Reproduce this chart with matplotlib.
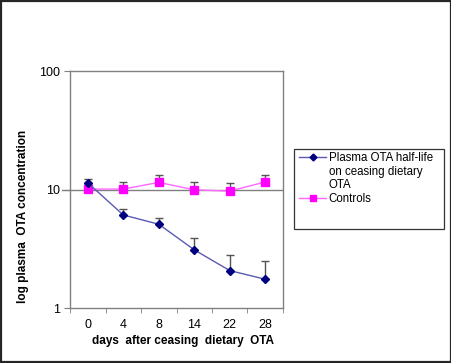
import numpy as np
import matplotlib.pyplot as plt
from matplotlib.lines import Line2D
from matplotlib.ticker import FixedLocator, NullLocator

plt.rcParams["font.family"] = ["Liberation Sans", "DejaVu Sans"]

# 数据
days = ["0", "4", "8", "14", "22", "28"]
plasma = [11.4, 6.1, 5.1, 3.1, 2.07, 1.75]
plasma_top = [12.2, 6.9, 5.8, 3.9, 2.8, 2.5]
controls = [10.1, 10.1, 11.5, 9.95, 9.7, 11.6]
controls_top = [11.0, 11.6, 13.2, 11.6, 11.3, 13.4]

x = np.arange(len(days))
plasma = np.array(plasma)
controls = np.array(controls)
err_p = np.array(plasma_top) - plasma
err_c = np.array(controls_top) - controls

fig = plt.figure(figsize=(4.52, 3.63), dpi=100)
# 外框
fig.patches.append(plt.Rectangle((0.002, 0.003), 0.995, 0.994, transform=fig.transFigure,
                                 fill=False, edgecolor="#262626", linewidth=1.6))
ax = fig.add_axes([0.155, 0.1515, 0.471, 0.6525])

# 10 处的水平线
ax.axhline(10, color="#808080", linewidth=1.0, zorder=1)
ax.plot([-0.72, -0.5], [10, 10], color="#808080", linewidth=1.0, clip_on=False)

# 误差线（只画上半部分）
ax.errorbar(x, controls, yerr=[np.zeros_like(err_c), err_c], fmt="none",
            ecolor="#555555", elinewidth=1.0, capsize=3, capthick=1.0, zorder=2)
ax.errorbar(x, plasma, yerr=[np.zeros_like(err_p), err_p], fmt="none",
            ecolor="#555555", elinewidth=1.0, capsize=3, capthick=1.0, zorder=2)

l_c, = ax.plot(x, controls, color="#FF66FF", linewidth=1.0, marker="s", markersize=6,
               markerfacecolor="#FF00FF", markeredgecolor="#FF00FF", zorder=3)
l_p, = ax.plot(x, plasma, color="#5A5AB4", linewidth=1.0, marker="D", markersize=4.5,
               markerfacecolor="#000080", markeredgecolor="#000080", zorder=4)

ax.set_yscale("log")
ax.set_ylim(1, 100)
ax.set_xlim(-0.5, 5.5)
ax.yaxis.set_major_locator(FixedLocator([1, 10, 100]))
ax.yaxis.set_minor_locator(NullLocator())
ax.set_yticklabels(["1", "10", "100"])

ax.xaxis.set_major_locator(FixedLocator(x))
ax.set_xticklabels(days)
ax.xaxis.set_minor_locator(FixedLocator(np.arange(-0.5, 6.0, 1.0)))
ax.tick_params(axis="x", which="major", length=0, pad=8, labelsize=9)
ax.tick_params(axis="x", which="minor", length=3.5, direction="out", color="#808080")
ax.tick_params(axis="y", which="major", length=4, direction="out", color="#808080", labelsize=9)

for s in ax.spines.values():
    s.set_color("#808080")
    s.set_linewidth(1.0)

ax.set_xlabel("days  after ceasing  dietary  OTA", fontsize=8.5, fontweight="bold")
ax.xaxis.set_label_coords(0.53, -0.115)
ax.set_ylabel("log plasma  OTA concentration", fontsize=8.5, fontweight="bold")
ax.yaxis.set_label_coords(-0.195, 0.385)

# 图例（Excel 风格的框）
fig.patches.append(plt.Rectangle((294 / 452, 1 - 229 / 363), 150 / 452, 80 / 363,
                                 transform=fig.transFigure, fill=False,
                                 edgecolor="#333333", linewidth=0.9))
blank = Line2D([], [], linestyle="none")
h_p = Line2D([], [], color="#5A5AB4", linewidth=1.0, marker="D", markersize=3.5,
             markerfacecolor="#000080", markeredgecolor="#000080")
h_c = Line2D([], [], color="#FF66FF", linewidth=1.0, marker="s", markersize=5,
             markerfacecolor="#FF00FF", markeredgecolor="#FF00FF")
fig.legend([h_p, blank, blank, h_c],
           ["Plasma OTA half-life", "on ceasing dietary", "OTA", "Controls"],
           loc="upper left", bbox_to_anchor=(0.662, 0.582), borderaxespad=0,
           fontsize=8.3, frameon=False, handlelength=2.35, handletextpad=0.2,
           borderpad=0, labelspacing=0.16)

fig.savefig("out.png", dpi=100)
